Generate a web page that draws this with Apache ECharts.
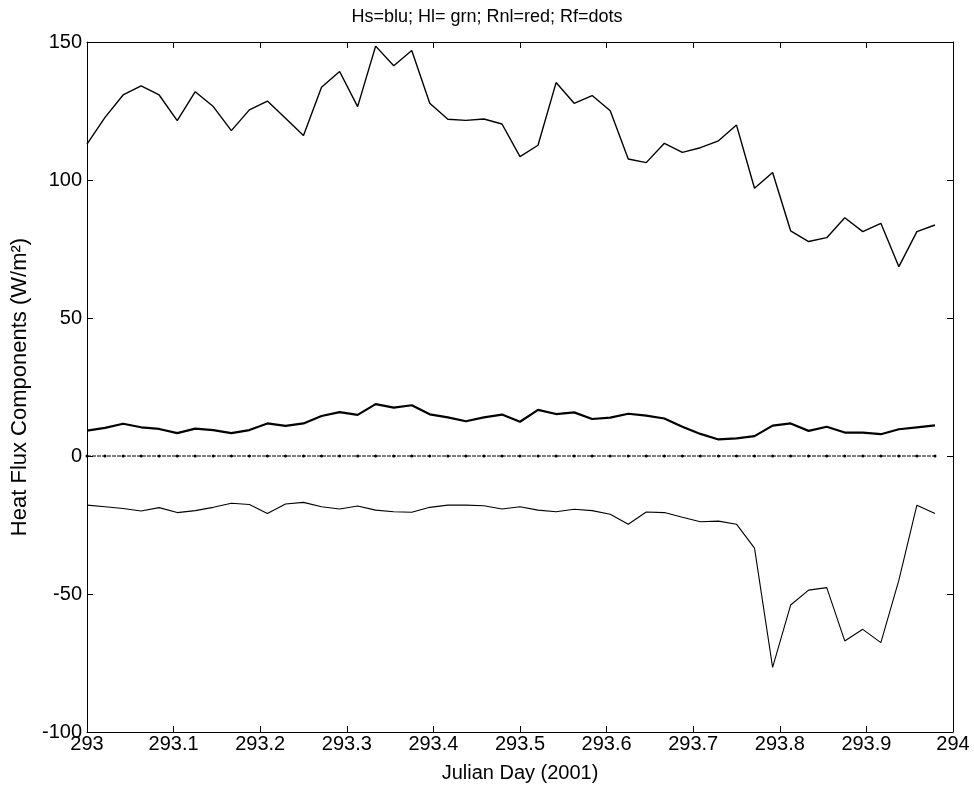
<!DOCTYPE html>
<html>
<head>
<meta charset="utf-8">
<script src="https://cdn.jsdelivr.net/npm/echarts@6/dist/echarts.min.js"></script>
<style>
html,body{margin:0;padding:0;background:#fff;}
#chart{width:974px;height:790px;}
</style>
</head>
<body>
<div id="chart"></div>
<script>
// Sample times (Julian Day, half-hourly)
const julianDay = [293.0000,293.0208,293.0417,293.0625,293.0833,293.1042,293.1250,293.1458,293.1667,293.1875,
  293.2083,293.2292,293.2500,293.2708,293.2917,293.3125,293.3333,293.3542,293.3750,293.3958,
  293.4167,293.4375,293.4583,293.4792,293.5000,293.5208,293.5417,293.5625,293.5833,293.6042,
  293.6250,293.6458,293.6667,293.6875,293.7083,293.7292,293.7500,293.7708,293.7917,293.8125,
  293.8333,293.8542,293.8750,293.8958,293.9167,293.9375,293.9583,293.9792];

// Upper trace
const hl = [113,122.7,130.8,134.1,130.8,121.5,132,126.6,117.9,125.4,
  128.6,122.4,116.1,133.6,139.3,126.6,148.5,141.4,146.9,127.8,
  122,121.6,122.1,120.3,108.5,112.6,135.3,127.8,130.6,125.1,
  107.6,106.3,113.3,110,111.7,114.2,119.9,97,102.7,81.6,
  77.7,79.1,86.3,81.3,84.3,68.6,81.3,83.7];

// Middle trace
const hs = [9.2,10.2,11.7,10.4,9.8,8.3,9.9,9.4,8.3,9.4,
  11.8,10.9,11.8,14.5,15.9,14.9,18.8,17.5,18.4,15.1,
  14,12.6,14,15,12.4,16.7,15.2,15.8,13.4,13.9,
  15.3,14.6,13.6,10.6,8,6,6.4,7.2,11,11.8,
  9.1,10.6,8.5,8.5,7.9,9.7,10.4,11.1];

// Lower trace
const rnl = [-17.8,-18.4,-19,-19.9,-18.7,-20.5,-19.8,-18.6,-17.1,-17.6,
  -20.8,-17.4,-16.8,-18.4,-19.2,-18.1,-19.6,-20.2,-20.4,-18.6,
  -17.8,-17.8,-18,-19.2,-18.4,-19.6,-20.2,-19.3,-19.8,-21.1,
  -24.7,-20.3,-20.5,-22.2,-23.8,-23.6,-24.7,-33.4,-76.6,-54,
  -48.6,-47.7,-67,-62.8,-67.6,-45,-17.8,-20.8];

// Dotted trace (near zero)
const rf = [0,0,0,0,0,0,0,0,0,0,
  0,0,0,0,0,0,0,0,0,0,
  0,0,0,0,0,0,0,0,0,0,
  0,0,0,0,0,0,0,0,0,0,
  0,0,0,0,0,0,0,0];

const yTicks = [-100,-50,0,50,100,150];
const xTicks = [293,293.1,293.2,293.3,293.4,293.5,293.6,293.7,293.8,293.9,294];

const titleText = 'Hs=blu; Hl= grn; Rnl=red; Rf=dots';
const xName = 'Julian Day (2001)';
const yName = 'Heat Flux Components (W/m\u00B2)';

const FONT = "'Liberation Sans', Arial, sans-serif";
const pair = arr => julianDay.map((t, i) => [t, arr[i]]);

const chart = echarts.init(document.getElementById('chart'), null, {renderer: 'canvas'});
const axisLine = {show: true, onZero: false, lineStyle: {color: '#000', width: 1}};
const tick = {show: true, inside: true, length: 6, lineStyle: {color: '#000', width: 1}};

chart.setOption({
  animation: false,
  backgroundColor: '#fff',
  title: {
    text: titleText, left: 'center', top: 3,
    textStyle: {fontFamily: FONT, fontSize: 18, fontWeight: 'normal', color: '#000'}
  },
  grid: {left: 87, right: 21, top: 42, bottom: 58, containLabel: false, outerBoundsMode: 'none'},
  xAxis: [{
    type: 'value', min: xTicks[0], max: xTicks[xTicks.length - 1], interval: 0.1,
    position: 'bottom',
    name: xName, nameLocation: 'middle', nameGap: 31,
    nameTextStyle: {fontFamily: FONT, fontSize: 20, color: '#000'},
    axisLine: axisLine, axisTick: tick, splitLine: {show: false},
    axisLabel: {fontFamily: FONT, fontSize: 20, color: '#000', margin: 2,
      formatter: v => String(Number(v.toFixed(1)))}
  }, {
    type: 'value', min: xTicks[0], max: xTicks[xTicks.length - 1], interval: 0.1,
    position: 'top',
    axisLine: axisLine, axisTick: tick, splitLine: {show: false},
    axisLabel: {show: false}
  }],
  yAxis: [{
    type: 'value', min: yTicks[0], max: yTicks[yTicks.length - 1], interval: 50,
    position: 'left',
    name: yName, nameLocation: 'middle', nameGap: 47, nameRotate: 90,
    nameTextStyle: {fontFamily: FONT, fontSize: 22, color: '#000'},
    axisLine: axisLine, axisTick: tick, splitLine: {show: false},
    axisLabel: {fontFamily: FONT, fontSize: 20, color: '#000', margin: 5}
  }, {
    type: 'value', min: yTicks[0], max: yTicks[yTicks.length - 1], interval: 50,
    position: 'right',
    axisLine: axisLine, axisTick: tick, splitLine: {show: false},
    axisLabel: {show: false}
  }],
  series: [
    {name: 'Rf', type: 'line', data: pair(rf), symbol: 'circle', symbolSize: 3,
      itemStyle: {color: '#000'}, lineStyle: {color: '#000', width: 1, type: [4, 1]}},
    {name: 'Hl', type: 'line', data: pair(hl), symbol: 'none',
      lineStyle: {color: '#000', width: 1.4}},
    {name: 'Hs', type: 'line', data: pair(hs), symbol: 'none',
      lineStyle: {color: '#000', width: 2.2}},
    {name: 'Rnl', type: 'line', data: pair(rnl), symbol: 'none',
      lineStyle: {color: '#000', width: 1.1}}
  ]
});
</script>
</body>
</html>
